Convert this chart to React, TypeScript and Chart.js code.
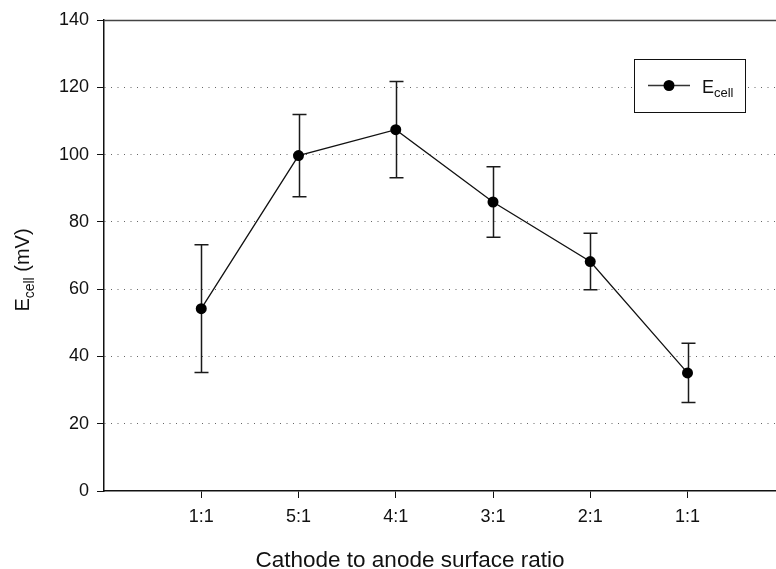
import React, { useEffect, useRef } from "react";
import { Chart, registerables } from "chart.js";

Chart.register(...registerables);

const categories = ["1:1", "5:1", "4:1", "3:1", "2:1", "1:1"];
const ecell = [54.2, 99.7, 107.4, 85.9, 68.2, 35.1];
const ecellErr = [19.0, 12.2, 14.3, 10.5, 8.4, 8.8];
const yTicks = [0, 20, 40, 60, 80, 100, 120, 140];

const FONT = "'Liberation Sans', Arial, Helvetica, sans-serif";

export default function App() {
  const ref = useRef<HTMLCanvasElement | null>(null);

  useEffect(() => {
    if (!ref.current) return;
    const points = ecell.map((v, i) => ({ x: i + 1, y: v }));

    const errorBars = {
      id: "errorBars",
      beforeDatasetsDraw(chart: any) {
        const ctx = chart.ctx;
        const xs = chart.scales.x;
        const ys = chart.scales.y;
        ctx.save();
        ctx.strokeStyle = "#1a1a1a";
        ctx.lineWidth = 1.5;
        ecell.forEach((v, i) => {
          const px = Math.round(xs.getPixelForValue(i + 1)) + 0.5;
          const top = ys.getPixelForValue(v + ecellErr[i]);
          const bot = ys.getPixelForValue(v - ecellErr[i]);
          ctx.beginPath();
          ctx.moveTo(px, top);
          ctx.lineTo(px, bot);
          ctx.moveTo(px - 7, top);
          ctx.lineTo(px + 7, top);
          ctx.moveTo(px - 7, bot);
          ctx.lineTo(px + 7, bot);
          ctx.stroke();
        });
        ctx.restore();
      },
    };

    const decorations = {
      id: "decorations",
      afterDraw(chart: any) {
        const ctx = chart.ctx;
        const a = chart.chartArea;
        ctx.save();
        // top frame line
        ctx.strokeStyle = "#444";
        ctx.lineWidth = 1.5;
        ctx.beginPath();
        ctx.moveTo(a.left, Math.round(a.top) + 0.5);
        ctx.lineTo(a.right, Math.round(a.top) + 0.5);
        ctx.stroke();

        // legend box
        ctx.strokeStyle = "#111";
        ctx.lineWidth = 1;
        ctx.fillStyle = "#fff";
        ctx.fillRect(634.5, 59.5, 111, 53);
        ctx.strokeRect(634.5, 59.5, 111, 53);
        ctx.strokeStyle = "#333";
        ctx.lineWidth = 1.5;
        ctx.beginPath();
        ctx.moveTo(648, 85.5);
        ctx.lineTo(690, 85.5);
        ctx.stroke();
        ctx.fillStyle = "#000";
        ctx.beginPath();
        ctx.arc(669, 85.5, 5.5, 0, Math.PI * 2);
        ctx.fill();
        ctx.fillStyle = "#111";
        ctx.textBaseline = "alphabetic";
        ctx.textAlign = "left";
        ctx.font = `18px ${FONT}`;
        ctx.fillText("E", 702, 93);
        const wE = ctx.measureText("E").width;
        ctx.font = `13px ${FONT}`;
        ctx.fillText("cell", 702 + wE, 97);

        // x title
        ctx.font = `22.5px ${FONT}`;
        ctx.textAlign = "center";
        ctx.fillText("Cathode to anode surface ratio", 410, 567);

        // y title (rotated, with subscript)
        ctx.translate(22, 270);
        ctx.rotate(-Math.PI / 2);
        ctx.textAlign = "left";
        ctx.font = `20px ${FONT}`;
        const w1 = ctx.measureText("E").width;
        const w3 = ctx.measureText(" (mV)").width;
        ctx.font = `14px ${FONT}`;
        const w2 = ctx.measureText("cell").width;
        const start = -(w1 + w2 + w3) / 2;
        ctx.font = `20px ${FONT}`;
        ctx.fillText("E", start, 7);
        ctx.font = `14px ${FONT}`;
        ctx.fillText("cell", start + w1, 12);
        ctx.font = `20px ${FONT}`;
        ctx.fillText(" (mV)", start + w1 + w2, 7);
        ctx.restore();
      },
    };

    const chart = new Chart(ref.current, {
      type: "line",
      data: {
        datasets: [
          {
            label: "Ecell",
            data: points,
            borderColor: "#111",
            borderWidth: 1.3,
            pointRadius: 5.5,
            pointBackgroundColor: "#000",
            pointBorderColor: "#000",
            pointBorderWidth: 0,
            tension: 0,
            clip: false,
          },
        ],
      },
      options: {
        responsive: false,
        animation: false,
        events: [],
        layout: { autoPadding: false, padding: { top: 20, right: 0, left: 0, bottom: 0 } },
        plugins: {
          legend: { display: false },
          tooltip: { enabled: false },
          title: { display: false },
        },
        scales: {
          x: {
            type: "linear",
            min: 0,
            max: 6.91,
            afterFit: (scale: any) => {
              scale.height = 78;
              scale.paddingLeft = 0;
              scale.paddingRight = 0;
            },
            afterBuildTicks: (scale: any) => {
              scale.ticks = categories.map((_, i) => ({ value: i + 1 }));
            },
            ticks: {
              callback: (value: any) => categories[Number(value) - 1] ?? "",
              font: { family: FONT, size: 18 },
              color: "#111",
              padding: 8,
              maxRotation: 0,
              autoSkip: false,
            },
            grid: {
              drawOnChartArea: false,
              drawTicks: true,
              tickLength: 7,
              tickColor: "#111",
              tickWidth: 1,
            },
            border: { display: true, color: "#111", width: 1.5 },
          },
          y: {
            type: "linear",
            min: 0,
            max: 140,
            afterFit: (scale: any) => {
              scale.width = 104;
              scale.paddingTop = 0;
              scale.paddingBottom = 0;
            },
            afterBuildTicks: (scale: any) => {
              scale.ticks = yTicks.map((v) => ({ value: v }));
            },
            ticks: {
              font: { family: FONT, size: 18 },
              color: "#111",
              padding: 8,
            },
            grid: {
              color: (c: any) =>
                c.tick && (c.tick.value === 0 || c.tick.value === 140)
                  ? "rgba(0,0,0,0)"
                  : "#666",
              lineWidth: 1,
              tickLength: 7,
              tickColor: "#111",
              tickWidth: 1,
              tickBorderDash: [],
            },
            border: { display: true, color: "#111", width: 1.5, dash: [1, 5.5] },
          },
        },
      },
      plugins: [errorBars, decorations],
    });

    return () => chart.destroy();
  }, []);

  return (
    <div style={{ position: "fixed", left: 0, top: 0, width: 776, height: 569, background: "#fff" }}>
      <canvas ref={ref} width={776} height={569} />
    </div>
  );
}
